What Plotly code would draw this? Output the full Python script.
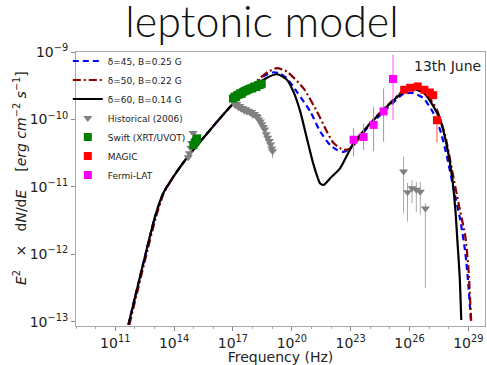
import plotly.graph_objects as go

# ---------------- data (log10 values) ----------------
# model curves: log10(nu [Hz]), log10(nuFnu [erg cm^-2 s^-1])
m45_nu = [11.67, 12.43, 13.03, 13.45, 13.96, 14.65, 17.03, 17.88, 18.56, 19.07, 19.41, 19.75,
          20.26, 20.94, 21.45, 21.96, 22.3, 22.64, 22.98, 23.15, 24.0, 24.85, 25.70, 26.19,
          26.7, 27.21, 27.57, 27.91, 28.23, 28.59, 28.85, 29.01, 29.14]
m45_f = [-13.04, -12.13, -11.44, -11.09, -10.85, -10.57, -9.76, -9.56, -9.36, -9.30, -9.32, -9.39,
         -9.59, -9.88, -10.18, -10.38, -10.45, -10.48, -10.43, -10.36, -10.08, -9.84, -9.62, -9.61,
         -9.68, -9.90, -10.16, -10.55, -11.0, -11.49, -11.98, -12.48, -13.01]

m50_nu = [11.72, 12.48, 13.08, 13.48, 13.96, 14.65, 17.03, 17.88, 18.22, 18.8, 19.24, 19.75,
          20.60, 21.28, 21.79, 22.13, 22.64, 22.98, 23.3, 24.0, 24.85, 25.70, 26.21, 26.8,
          27.40, 27.83, 28.17, 28.50, 28.85, 29.01, 29.15]
m50_f = [-13.04, -12.13, -11.44, -11.09, -10.85, -10.57, -9.76, -9.55, -9.43, -9.29, -9.24, -9.29,
         -9.54, -9.88, -10.18, -10.35, -10.45, -10.43, -10.33, -10.05, -9.80, -9.57, -9.53, -9.60,
         -9.86, -10.25, -10.75, -11.24, -11.74, -12.23, -13.01]

m60_nu = [11.67, 12.43, 13.03, 13.45, 13.96, 14.65, 17.03, 17.88, 18.56, 19.24, 19.75, 20.09,
          20.43, 20.77, 21.11, 21.45, 21.62, 21.96, 22.47, 23.15, 24.0, 24.85, 25.70, 26.21,
          26.7, 27.23, 27.57, 27.91, 28.17, 28.34, 28.45, 28.56, 28.64]
m60_f = [-13.04, -12.13, -11.44, -11.09, -10.85, -10.57, -9.76, -9.56, -9.41, -9.33, -9.41, -9.59,
         -9.88, -10.28, -10.67, -10.95, -10.97, -10.87, -10.72, -10.35, -10.06, -9.81, -9.59, -9.55,
         -9.60, -9.81, -10.01, -10.40, -10.85, -11.34, -11.83, -12.33, -12.97]

# Historical (2006) optical / X-ray
hist_nu = [14.72, 14.78, 14.85, 14.90, 14.97,
           17.05, 17.12, 17.2, 17.28, 17.35, 17.42, 17.5, 17.58, 17.65, 17.72, 17.8, 17.88,
           17.95, 18.02, 18.1, 18.18, 18.25, 18.32, 18.4, 18.47, 18.55, 18.62, 18.7, 18.77,
           18.85, 18.92, 18.98, 19.02]
hist_f = [-10.56, -10.50, -10.42, -10.35, -10.20,
          -9.74, -9.79, -9.77, -9.82, -9.80, -9.84, -9.83, -9.87, -9.85, -9.88, -9.87, -9.90,
          -9.89, -9.93, -9.92, -9.95, -9.96, -10.0, -10.03, -10.07, -10.11, -10.15, -10.22, -10.27,
          -10.32, -10.37, -10.43, -10.47]
hist_err = [0.03, 0.03, 0.03, 0.03, 0.03,
            0.03, 0.03, 0.03, 0.03, 0.03, 0.03, 0.03, 0.03, 0.03, 0.03, 0.03, 0.03,
            0.03, 0.03, 0.03, 0.03, 0.03, 0.03, 0.03, 0.03, 0.03, 0.04, 0.04, 0.04,
            0.05, 0.05, 0.06, 0.10]

# Historical (2006) gamma-ray
histg_nu = [25.70, 25.90, 26.13, 26.35, 26.55, 26.81]
histg_f = [-10.77, -11.08, -11.02, -11.04, -11.07, -11.32]
histg_hi = [-10.55, -10.94, -10.90, -10.92, -10.92, -11.24]
histg_lo = [-11.39, -11.51, -11.24, -11.37, -11.41, -12.50]

# Swift (XRT/UVOT)
swift_nu = [14.98, 15.05, 15.12, 15.18,
            17.0, 17.08, 17.15, 17.22, 17.3, 17.38, 17.45, 17.52, 17.6, 17.68, 17.75, 17.82,
            17.9, 17.98, 18.05, 18.12, 18.2, 18.28, 18.35, 18.42, 18.47]
swift_f = [-10.38, -10.34, -10.31, -10.28,
           -9.69, -9.66, -9.67, -9.64, -9.63, -9.61, -9.62, -9.59, -9.58, -9.57, -9.56, -9.55,
           -9.54, -9.54, -9.52, -9.51, -9.52, -9.49, -9.49, -9.48, -9.47]

# MAGIC
magic_nu = [25.73, 26.04, 26.42, 26.76, 27.04, 27.21, 27.40]
magic_f = [-9.56, -9.53, -9.51, -9.56, -9.60, -9.64, -10.01]
magic_hi = [-9.52, -9.49, -9.47, -9.52, -9.56, -9.60, -9.93]
magic_lo = [-9.60, -9.57, -9.55, -9.60, -9.65, -9.70, -10.34]

# Fermi-LAT
fermi_nu = [23.15, 23.66, 24.17, 24.68, 25.16]
fermi_f = [-10.30, -10.26, -10.08, -9.88, -9.40]
fermi_hi = [-10.13, -10.06, -9.81, -9.54, -9.04]
fermi_lo = [-10.55, -10.45, -10.47, -10.33, -10.01]

x_ticks = [11, 14, 17, 20, 23, 26, 29]
y_ticks = [-9, -10, -11, -12, -13]


def lin(a):
    return [10.0 ** v for v in a]


def err_up(v, hi):
    return [10.0 ** h - 10.0 ** c for c, h in zip(v, hi)]


def err_dn(v, lo):
    return [10.0 ** c - 10.0 ** l for c, l in zip(v, lo)]


fig = go.Figure()

fig.add_trace(go.Scatter(x=lin(m45_nu), y=lin(m45_f), mode="lines", name="δ=45, B=0.25 G",
                         line=dict(color="#0000ff", width=2.2, dash="6px,4px", shape="spline", smoothing=0.6)))
fig.add_trace(go.Scatter(x=lin(m50_nu), y=lin(m50_f), mode="lines", name="δ=50, B=0.22 G",
                         line=dict(color="#8b0000", width=2.2, dash="8px,3px,2px,3px", shape="spline", smoothing=0.6)))
fig.add_trace(go.Scatter(x=lin(m60_nu), y=lin(m60_f), mode="lines", name="δ=60, B=0.14 G",
                         line=dict(color="#000000", width=2.2, shape="spline", smoothing=0.6)))

# Historical: optical/X-ray and gamma-ray, one legend entry
fig.add_trace(go.Scatter(x=lin(hist_nu), y=lin(hist_f), mode="markers", name="Historical (2006)",
                         legendgroup="hist",
                         marker=dict(symbol="triangle-down", size=8, color="#808080"),
                         error_y=dict(type="data", symmetric=False,
                                      array=err_up(hist_f, [c + e for c, e in zip(hist_f, hist_err)]),
                                      arrayminus=err_dn(hist_f, [c - e for c, e in zip(hist_f, hist_err)]),
                                      color="#a0a0a0", thickness=1, width=0)))
fig.add_trace(go.Scatter(x=lin(histg_nu), y=lin(histg_f), mode="markers", name="Historical (2006)",
                         legendgroup="hist", showlegend=False,
                         marker=dict(symbol="triangle-down", size=8, color="#808080"),
                         error_y=dict(type="data", symmetric=False,
                                      array=err_up(histg_f, histg_hi), arrayminus=err_dn(histg_f, histg_lo),
                                      color="#a8a8a8", thickness=1, width=0)))

fig.add_trace(go.Scatter(x=lin(swift_nu), y=lin(swift_f), mode="markers", name="Swift (XRT/UVOT)",
                         marker=dict(symbol="square", size=8, color="#008000")))

fig.add_trace(go.Scatter(x=lin(magic_nu), y=lin(magic_f), mode="markers", name="MAGIC",
                         marker=dict(symbol="square", size=8, color="#ff0000"),
                         error_y=dict(type="data", symmetric=False,
                                      array=err_up(magic_f, magic_hi), arrayminus=err_dn(magic_f, magic_lo),
                                      color="#ff5050", thickness=1, width=0)))

fig.add_trace(go.Scatter(x=lin(fermi_nu), y=lin(fermi_f), mode="markers", name="Fermi-LAT",
                         marker=dict(symbol="square", size=8, color="#ff00ff"),
                         error_y=dict(type="data", symmetric=False,
                                      array=err_up(fermi_f, fermi_hi), arrayminus=err_dn(fermi_f, fermi_lo),
                                      color="#ff55ff", thickness=1, width=0)))

font_main = "DejaVu Sans"
y_title = ("<i>E</i><sup>2</sup>\u00a0\u00a0\u00a0\u00d7\u00a0\u00a0\u00a0d<i>N</i>/d<i>E</i>"
           "\u00a0\u00a0\u00a0\u00a0[<i>erg\u00a0cm</i><sup>\u22122</sup>\u00a0<i>s</i><sup>\u22121</sup>]")

fig.update_layout(
    width=487, height=365,
    margin=dict(l=76, r=2, t=52, b=39, autoexpand=False),
    paper_bgcolor="white", plot_bgcolor="white",
    font=dict(family=font_main, size=14, color="#222222"),
    title=dict(text="leptonic model", x=0.455, xanchor="center", xref="paper",
               y=1 - 22 / 365, yref="container", yanchor="middle",
               font=dict(family="Lato", size=43, weight=300, color="#111111")),
    showlegend=True,
    legend=dict(x=-0.02, y=1.02, xanchor="left", yanchor="top", bgcolor="rgba(255,255,255,0)",
                font=dict(family=font_main, size=9, color="#222222"),
                itemwidth=30, tracegroupgap=0),
    xaxis=dict(type="log", range=[9.0, 29.85], automargin=False,
               tickvals=[10.0 ** v for v in x_ticks],
               ticktext=["10<sup>%d</sup>" % v for v in x_ticks],
               ticks="outside", ticklen=4, tickcolor="#888888",
               minor=dict(dtick=1, ticks="outside", ticklen=2, tickcolor="#aaaaaa"),
               showgrid=False, zeroline=False,
               showline=True, linecolor="#aaaaaa", linewidth=1, mirror=True,
               title=dict(text="Frequency (Hz)", standoff=0, font=dict(size=14)),
               tickfont=dict(size=14)),
    yaxis=dict(type="log", range=[-13.06, -9.0], automargin=False,
               tickvals=[10.0 ** v for v in y_ticks],
               ticktext=["10<sup>\u2212%d</sup>" % (-v) for v in y_ticks],
               ticks="outside", ticklen=4, tickcolor="#888888",
               showgrid=False, zeroline=False,
               showline=True, linecolor="#aaaaaa", linewidth=1, mirror=True,
               tickfont=dict(size=14)),
    annotations=[
        dict(text="13th June", xref="paper", yref="paper", x=0.995, y=0.95,
             xanchor="right", yanchor="middle", showarrow=False,
             font=dict(family=font_main, size=14, color="#222222")),
        dict(text=y_title, xref="paper", yref="paper", x=-0.137, y=0.54, textangle=-90,
             xanchor="center", yanchor="middle", showarrow=False,
             font=dict(family=font_main, size=14, color="#222222")),
    ],
)

fig.write_html("out.html", config={"displayModeBar": False},
               post_script="document.body.style.margin='0';document.body.style.padding='0';")
